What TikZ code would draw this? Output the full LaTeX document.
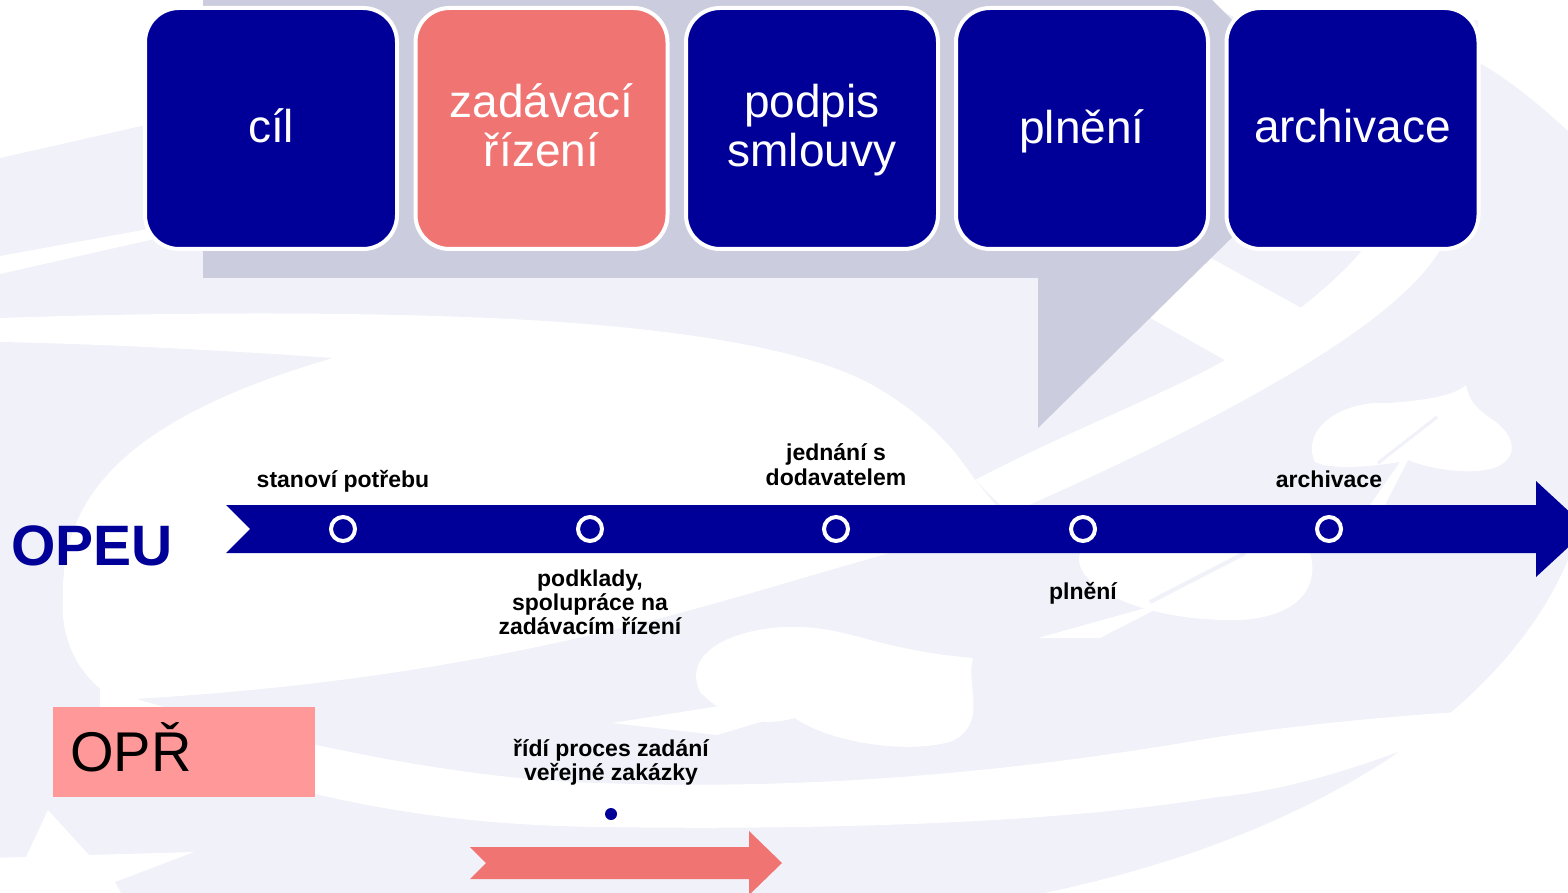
\documentclass[tikz,border=0pt]{standalone}
\usepackage{fontspec}
\setmainfont{Liberation Sans}
\definecolor{opblue}{HTML}{000099}
\definecolor{salmon}{HTML}{F07572}
\definecolor{pinkbox}{HTML}{FF9999}
\definecolor{callgray}{HTML}{CBCCDD}
\definecolor{lav}{HTML}{F0F1F9}
\begin{document}
\begin{tikzpicture}[x=0.5pt,y=-0.5pt,
  phase/.style={draw=white, line width=2pt, rounded corners=17pt, minimum width=126pt, minimum height=120.5pt, inner sep=0pt},
  phasetext/.style={text=white, font=\fontsize{23}{27}\selectfont, anchor=base, inner sep=0pt},
  lbl/.style={font=\fontsize{11.5}{13}\selectfont\bfseries, text=black, anchor=base, inner sep=0pt},
  milestone/.style={circle, draw=white, line width=2pt, fill=opblue, minimum size=12pt, inner sep=0pt},
  wm/.style={fill=white}]
\useasboundingbox (0,0) rectangle (1568,893);
\clip (0,0) rectangle (1568,893);
% background watermark
\fill[lav] (0,0) rectangle (1568,893);
\fill[wm] (0,0) -- (203,0) -- (203,112) -- (0,158) -- cycle;
\fill[wm] (0,256) -- (203,219) -- (203,228) -- (0,274) -- cycle;
\fill[wm] (0,318) .. controls (200,311) and (420,312) .. (560,322)
  .. controls (700,332) and (820,352) .. (881,390)
  .. controls (930,420) and (955,450) .. (975,480)
  -- (1000,510) -- (1000,553) -- (890,553)
  .. controls (800,578) and (700,610) .. (600,633)
  .. controls (450,668) and (300,690) .. (117,700)
  .. controls (80,680) and (60,640) .. (63,600)
  .. controls (60,500) and (120,420) .. (333,358)
  .. controls (220,350) and (100,344) .. (0,342) -- cycle;
\fill[wm] (975,480) .. controls (1080,425) and (1190,385) .. (1250,345)
  .. controls (1300,310) and (1345,275) .. (1370,240)
  -- (1445,240) .. controls (1410,320) and (1220,420) .. (1029,505)
  -- (1000,505) -- cycle;
\fill[wm] (1140,312) -- (1200,252) -- (1305,310) -- (1228,362) -- cycle;
\fill[wm] (1315,462) .. controls (1300,430) and (1340,400) .. (1389,403)
  .. controls (1430,400) and (1455,395) .. (1466,385)
  .. controls (1470,405) and (1480,410) .. (1490,418)
  .. controls (1525,440) and (1520,475) .. (1460,471)
  .. controls (1440,470) and (1420,465) .. (1408,460)
  -- (1385,505) -- (1370,505) -- (1400,462)
  .. controls (1370,467) and (1330,470) .. (1315,462) -- cycle;
\draw[lav, line width=1.5pt] (1437,417) -- (1378,463);
\fill[wm] (1080,553) .. controls (1070,585) and (1140,622) .. (1240,620)
  .. controls (1300,617) and (1320,585) .. (1310,553) -- cycle;
\draw[lav, line width=2pt] (1245,553) -- (1150,602);
\fill[wm] (1038,638) -- (1100,638) -- (1174,600) -- cycle;
\fill[wm] (700,692) .. controls (680,650) and (740,625) .. (800,627)
  .. controls (850,628) and (880,650) .. (973,658)
  .. controls (965,685) and (990,725) .. (950,742)
  .. controls (900,755) and (825,740) .. (795,718)
  .. controls (760,728) and (725,718) .. (700,692) -- cycle;
\fill[wm] (612,723) -- (896,678) -- (791,713) -- (717,735) -- cycle;
\fill[wm] (100,688) .. controls (250,735) and (450,780) .. (600,783)
  .. controls (800,790) and (1000,775) .. (1217,737)
  .. controls (1350,718) and (1450,712) .. (1501,710)
  .. controls (1400,755) and (1300,790) .. (1217,797)
  .. controls (1050,825) and (800,830) .. (600,827)
  .. controls (450,825) and (300,805) .. (100,725) -- cycle;
\fill[wm] (1568,560) .. controls (1500,720) and (1300,840) .. (1044,893) -- (1568,893) -- cycle;
\fill[wm] (1200,0) -- (1568,0) -- (1568,131) .. controls (1540,105) and (1510,80) .. (1478,62) -- (1478,20) -- (1240,20) -- cycle;
\fill[wm] (48,810) -- (89,855) -- (194,852) -- (115,882) -- (125,900) -- (-10,900) -- (-10,858) -- (26,857) -- cycle;
% callout
\fill[callgray] (203,0) -- (1212,0) -- (1262,50) -- (1262,208) -- (1038,428) -- (1038,278) -- (203,278) -- cycle;
% phase boxes
\node[phase, fill=opblue] (cil) at (271,128.5) {};
\node[phase, fill=salmon] (zad) at (541.5,128.5) {};
\node[phase, fill=opblue] (pod) at (812,128.5) {};
\node[phase, fill=opblue] (pln) at (1082,128.5) {};
\node[phase, fill=opblue] (arc) at (1352.5,128.5) {};
\node[phasetext] (cilT) at (271,143) {cíl};
\node[phasetext] (zadT1) at (541.5,118) {zadávací};
\node[phasetext] (zadT2) at (541.5,167) {řízení};
\node[phasetext] (podT1) at (812,118) {podpis};
\node[phasetext] (podT2) at (812,167) {smlouvy};
\node[phasetext] (plnT) at (1082,144) {plnění};
\node[phasetext] (arcT) at (1352.5,143) {archivace};
% timeline
\fill[opblue] (226,505) -- (1536,505) -- (1536,481) -- (1588,529) -- (1536,577) -- (1536,553) -- (226,553) -- (250,529) -- cycle;
\node[milestone] (m1) at (343,529) {};
\node[milestone] (m2) at (590,529) {};
\node[milestone] (m3) at (836,529) {};
\node[milestone] (m4) at (1083,529) {};
\node[milestone] (m5) at (1329,529) {};
\node[lbl] (l1) at (343,487) {stanoví potřebu};
\node[lbl] (l3a) at (836,460) {jednání s};
\node[lbl] (l3b) at (836,485) {dodavatelem};
\node[lbl] (l5) at (1329,487) {archivace};
\node[lbl] (l2a) at (590,586) {podklady,};
\node[lbl] (l2b) at (590,610) {spolupráce na};
\node[lbl] (l2c) at (590,634) {zadávacím řízení};
\node[lbl] (l4) at (1083,599) {plnění};
\node[font=\fontsize{28.5}{34}\selectfont\bfseries, text=opblue, anchor=base west, inner sep=0pt] (opeu) at (11,565) {OPEU};
% OPR
\node[fill=pinkbox, minimum width=131pt, minimum height=45pt, inner sep=0pt] (oprbox) at (184,752) {};
\node[anchor=base west, inner sep=0pt, font=\fontsize{28}{33}\selectfont] (oprT) at (70,771) {OPŘ};
\node[lbl] (r1) at (611,756) {řídí proces zadání};
\node[lbl] (r2) at (611,780) {veřejné zakázky};
\node[circle, fill=opblue, minimum size=6pt, inner sep=0pt] (dot) at (611,814) {};
\fill[salmon] (470,847) -- (749,847) -- (749,831) -- (782,863) -- (749,895) -- (749,879) -- (470,879) -- (486,863) -- cycle;
\end{tikzpicture}
\end{document}
